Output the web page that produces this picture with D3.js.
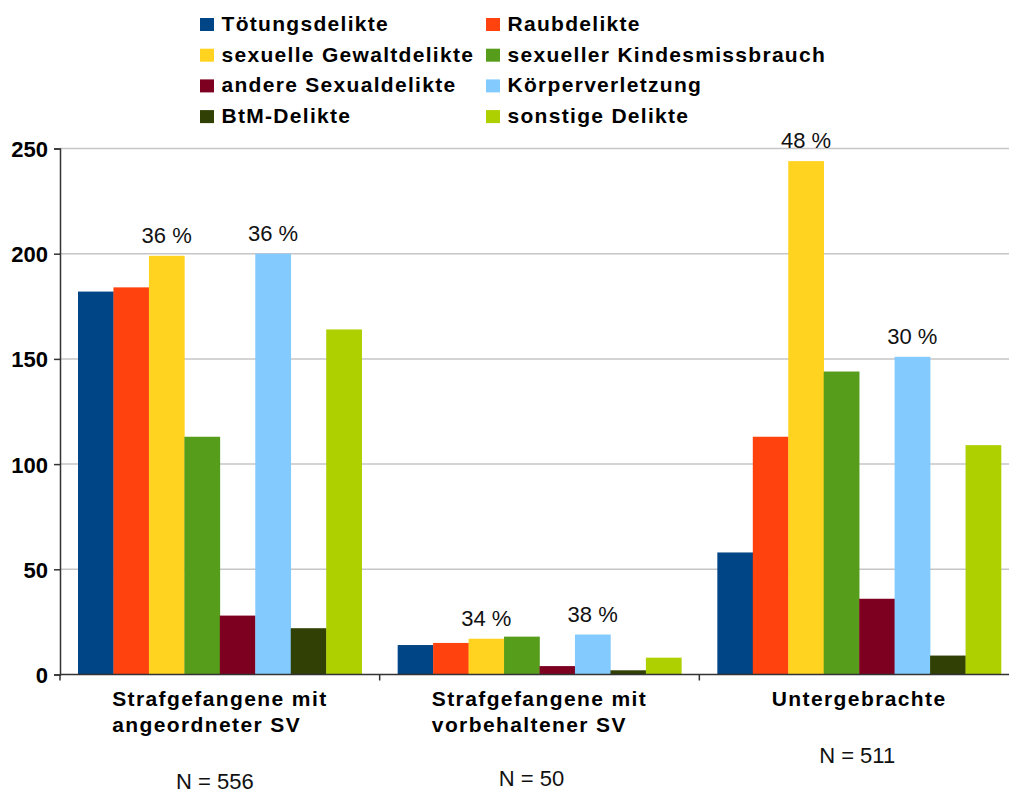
<!DOCTYPE html>
<html>
<head>
<meta charset="utf-8">
<script src="https://cdn.jsdelivr.net/npm/d3@7"></script>
<style>
  body { margin: 0; background: #fff; }
  svg text { font-family: "Liberation Sans", Arial, sans-serif; }
</style>
</head>
<body>
<svg id="chart" width="1009" height="793"></svg>
<script>
// groups along the x axis
const groups = ['Strafgefangene mit angeordneter SV', 'Strafgefangene mit vorbehaltener SV', 'Untergebrachte'];
const groupLines = [['Strafgefangene mit', 'angeordneter SV'], ['Strafgefangene mit', 'vorbehaltener SV'], ['Untergebrachte']];
const groupN = ['N = 556', 'N = 50', 'N = 511'];

// offence categories (series)
const series = ['Tötungsdelikte', 'Raubdelikte', 'sexuelle Gewaltdelikte', 'sexueller Kindesmissbrauch',
  'andere Sexualdelikte', 'Körperverletzung', 'BtM-Delikte', 'sonstige Delikte'];
const colors = ['#004586', '#ff420e', '#ffd320', '#579d1c', '#7e0021', '#83caff', '#314004', '#aecf00'];

// counts per group, one array per series
const toetung = [182, 14, 58];
const raub = [184, 15, 113];
const sexGewalt = [199, 17, 244];
const kindesmissbrauch = [113, 18, 144];
const andereSexual = [28, 4, 36];
const koerperverletzung = [200, 19, 151];
const btm = [22, 2, 9];
const sonstige = [164, 8, 109];
const values = [toetung, raub, sexGewalt, kindesmissbrauch, andereSexual, koerperverletzung, btm, sonstige];

// percentage labels shown above some bars
const pctLabels = [
  { series: 'sexuelle Gewaltdelikte', group: 0, text: '36 %' },
  { series: 'Körperverletzung', group: 0, text: '36 %' },
  { series: 'sexuelle Gewaltdelikte', group: 1, text: '34 %' },
  { series: 'Körperverletzung', group: 1, text: '38 %' },
  { series: 'sexuelle Gewaltdelikte', group: 2, text: '48 %' },
  { series: 'Körperverletzung', group: 2, text: '30 %' }
];
const yTicks = [0, 50, 100, 150, 200, 250];

const svg = d3.select('#chart');
svg.append('rect').attr('width', 1009).attr('height', 793).attr('fill', '#fff');

const x0 = d3.scaleBand().domain(groups).range([60, 1019]);
const x1 = d3.scaleBand().domain(series).range([18, x0.bandwidth() - 18]);
const y = d3.scaleLinear().domain([0, 250]).range([674.5, 148.5]);
const color = d3.scaleOrdinal().domain(series).range(colors);

// gridlines
svg.append('g')
  .selectAll('line')
  .data(yTicks.filter(d => d > 0))
  .enter()
  .append('line')
  .attr('x1', 60).attr('x2', 1019)
  .attr('y1', d => y(d)).attr('y2', d => y(d))
  .attr('stroke', '#c6c6c6')
  .attr('stroke-width', 1.5);

// bars
const rows = [];
series.forEach((s, si) => {
  groups.forEach((g, gi) => rows.push({ series: s, group: g, value: values[si][gi] }));
});
svg.append('g')
  .selectAll('rect')
  .data(rows)
  .enter()
  .append('rect')
  .attr('x', d => x0(d.group) + x1(d.series))
  .attr('y', d => y(d.value))
  .attr('width', x1.bandwidth() + 0.3)
  .attr('height', d => y(0) - y(d.value))
  .attr('fill', d => color(d.series));

// y axis
const yAxis = svg.append('g')
  .attr('transform', 'translate(60,0)')
  .call(d3.axisLeft(y).tickValues(yTicks).tickSize(6).tickPadding(6));
yAxis.select('.domain').attr('stroke', '#333').attr('stroke-width', 1.5);
yAxis.selectAll('.tick line').attr('stroke', '#333').attr('stroke-width', 1.5);
yAxis.selectAll('.tick text')
  .attr('font-size', 22)
  .attr('font-weight', 'bold')
  .attr('fill', '#000')
  .attr('dy', '0.36em')
  .attr('font-family', '"Liberation Sans", Arial, sans-serif');

// x axis with ticks at group boundaries
svg.append('line')
  .attr('x1', 60).attr('x2', 1019)
  .attr('y1', y(0)).attr('y2', y(0))
  .attr('stroke', '#333').attr('stroke-width', 1.5);
svg.append('g')
  .selectAll('line')
  .data(groups.map(g => x0(g)).concat([x0.range()[1]]))
  .enter()
  .append('line')
  .attr('x1', d => d).attr('x2', d => d)
  .attr('y1', y(0)).attr('y2', y(0) + 6)
  .attr('stroke', '#333').attr('stroke-width', 1.5);

// category labels (left-aligned block centered under group)
const catG = svg.append('g');
groups.forEach((g, gi) => {
  const t = catG.append('text')
    .attr('font-size', 21)
    .attr('font-weight', 'bold')
    .attr('letter-spacing', 1.4)
    .attr('fill', '#000');
  groupLines[gi].forEach((line, li) => {
    t.append('tspan').attr('x', 0).attr('y', 706 + li * 26).text(line);
  });
  const w = t.node().getBBox().width;
  t.attr('transform', 'translate(' + (x0(g) + x0.bandwidth() / 2 - w / 2) + ',0)');
});

// N labels
const nOffsets = [[-5, 789], [-8, 786], [-2, 763]];
svg.append('g')
  .selectAll('text')
  .data(groups)
  .enter()
  .append('text')
  .attr('x', (g, i) => x0(g) + x0.bandwidth() / 2 + nOffsets[i][0])
  .attr('y', (g, i) => nOffsets[i][1])
  .attr('text-anchor', 'middle')
  .attr('font-size', 22)
  .attr('fill', '#111')
  .text((g, i) => groupN[i]);

// percentage labels
svg.append('g')
  .selectAll('text')
  .data(pctLabels)
  .enter()
  .append('text')
  .attr('x', d => x0(groups[d.group]) + x1(d.series) + x1.bandwidth() / 2)
  .attr('y', d => y(values[series.indexOf(d.series)][d.group]) - 13)
  .attr('text-anchor', 'middle')
  .attr('font-size', 22)
  .attr('fill', '#111')
  .text(d => d.text);

// legend, two columns
const legend = svg.append('g');
series.forEach((s, i) => {
  const col = i % 2, row = Math.floor(i / 2);
  const lx = 200 + col * 286, ly = 31 + row * 30.7;
  legend.append('rect')
    .attr('x', lx).attr('y', ly - 13)
    .attr('width', 14).attr('height', 13)
    .attr('fill', colors[i]);
  legend.append('text')
    .attr('x', lx + 21.5).attr('y', ly)
    .attr('font-size', 21)
    .attr('font-weight', 'bold')
    .attr('letter-spacing', 1.3)
    .attr('fill', '#000')
    .text(s);
});
</script>
</body>
</html>
